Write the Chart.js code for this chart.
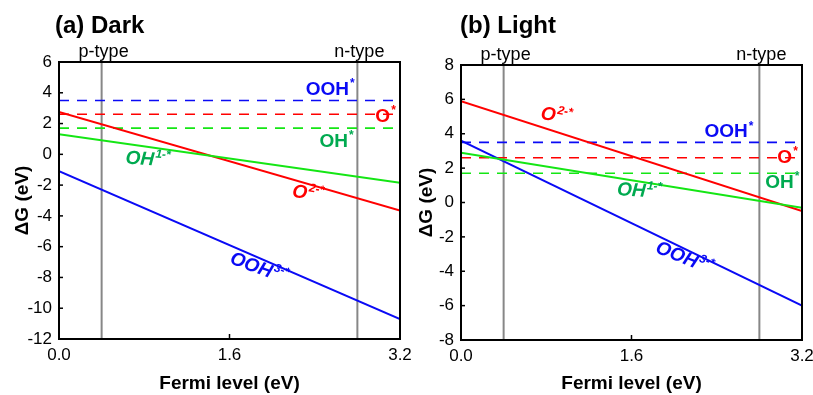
<!DOCTYPE html>
<html lang="en">
<head>
    <meta charset="UTF-8">
    <script src="https://cdn.jsdelivr.net/npm/chart.js"></script>
    <title>Dark / Light</title>
    <style>
      body { margin: 0; background: #fff; }
      .panel { position: absolute; top: 0; height: 395px; }
    </style>
</head>
<body>
  <div style="position: relative; width: 813px; height: 395px;">
    <div class="panel" style="left: 0; width: 420px;"><canvas id="dark"></canvas></div>
    <div class="panel" style="left: 405px; width: 408px;"><canvas id="light"></canvas></div>
  </div>

  <script>
    // values
    const fermiRange = [0, 3.2]           // x axis, eV
    const bandEdges = [0.4, 2.8]          // grey vertical lines
    const edgeLabels = ['p-type', 'n-type']
    const neutralLevels = [3.5, 2.6, 1.7] // OOH*, O*, OH* (flat, dashed)

    const darkYRange = [-12, 6]
    const darkO2 = [2.75, -3.65]          // value at 0 eV and 3.2 eV
    const darkOH1 = [1.3, -1.85]
    const darkOOH3 = [-1.1, -10.7]

    const lightYRange = [-8, 8]
    const lightO2 = [5.9, -0.5]
    const lightOH1 = [2.9, -0.3]
    const lightOOH3 = [3.6, -6.0]

    const RED = 'rgb(255,0,0)'
    const BLUE = 'rgb(10,10,245)'
    const GREEN = 'rgb(20,230,20)'
    const GREEN_TXT = 'rgb(0,170,80)'
    const GREY = 'rgb(135,135,135)'
    const FONT = '"Liberation Sans", Arial, sans-serif'

    // text labels in data coordinates
    const darkLabels = [
      {main: 'OOH', sup: '*', x: 2.54, y: 4.2, color: BLUE},
      {main: 'O', sup: '*', x: 3.06, y: 2.45, color: RED},
      {main: 'OH', sup: '*', x: 2.6, y: 0.83, color: GREEN_TXT},
      {main: 'OH', sup: '1-*', x: 0.83, y: -0.35, color: GREEN_TXT, italic: true, rot: 4},
      {main: 'O', sup: '2-*', x: 2.33, y: -2.57, color: RED, italic: true, rot: 10},
      {main: 'OOH', sup: '3-*', x: 1.87, y: -7.4, color: BLUE, italic: true, rot: 20}
    ]
    const lightLabels = [
      {main: 'O', sup: '2-*', x: 0.89, y: 5.02, color: RED, italic: true, rot: 10},
      {main: 'OOH', sup: '*', x: 2.51, y: 4.09, color: BLUE},
      {main: 'O', sup: '*', x: 3.06, y: 2.6, color: RED},
      {main: 'OH', sup: '*', x: 3.01, y: 1.14, color: GREEN_TXT},
      {main: 'OH', sup: '1-*', x: 1.67, y: 0.65, color: GREEN_TXT, italic: true, rot: 4},
      {main: 'OOH', sup: '3-*', x: 2.09, y: -3.24, color: BLUE, italic: true, rot: 22}
    ]

    const line = (ends, color, dash) => ({
      data: [{x: fermiRange[0], y: ends[0]}, {x: fermiRange[1], y: ends[1]}],
      borderColor: color, borderWidth: dash ? 1.6 : 2, borderDash: dash || [],
      pointRadius: 0, showLine: true
    })

    const framePlugin = {
      id: 'frame',
      afterDraw(chart, args, opts) {
        const {ctx, chartArea: a, scales: {x, y}} = chart
        ctx.save()
        ctx.strokeStyle = '#000'
        ctx.lineWidth = 2
        ctx.strokeRect(a.left, a.top, a.right - a.left, a.bottom - a.top)
        // inward ticks
        ctx.lineWidth = 1.5
        y.ticks.forEach(t => {
          const py = y.getPixelForValue(t.value)
          ctx.beginPath(); ctx.moveTo(a.left, py); ctx.lineTo(a.left + 4, py); ctx.stroke()
        })
        x.ticks.forEach(t => {
          const px = x.getPixelForValue(t.value)
          ctx.beginPath(); ctx.moveTo(px, a.bottom); ctx.lineTo(px, a.bottom - 5); ctx.stroke()
        })
        // panel title
        ctx.fillStyle = '#000'
        ctx.textBaseline = 'middle'
        ctx.textAlign = 'left'
        ctx.font = 'bold 24px ' + FONT
        ctx.fillText(opts.title, opts.titleX, 26)
        // p-type / n-type
        ctx.font = '18px ' + FONT
        ctx.textAlign = 'center'
        bandEdges.forEach((e, i) => ctx.fillText(edgeLabels[i], x.getPixelForValue(e) + 2, a.top - 10))
        // species labels
        opts.labels.forEach(l => {
          const style = l.italic ? 'italic bold ' : 'bold '
          ctx.font = style + '19px ' + FONT
          const w1 = ctx.measureText(l.main).width
          ctx.font = style + '12px ' + FONT
          const w2 = ctx.measureText(l.sup).width
          ctx.save()
          ctx.translate(x.getPixelForValue(l.x), y.getPixelForValue(l.y))
          ctx.rotate((l.rot || 0) * Math.PI / 180)
          ctx.fillStyle = l.color
          ctx.textAlign = 'left'
          ctx.textBaseline = 'middle'
          ctx.font = style + '19px ' + FONT
          ctx.fillText(l.main, -(w1 + w2) / 2, 0)
          ctx.font = style + '12px ' + FONT
          ctx.fillText(l.sup, -(w1 + w2) / 2 + w1 + 1, -6)
          ctx.restore()
        })
        ctx.restore()
      }
    }

    function makeChart(id, yRange, o2, oh1, ooh3, labels, title, layout) {
      return new Chart(document.getElementById(id), {
        type: 'scatter',
        data: {
          datasets: [
            line(oh1, GREEN),
            line(o2, RED),
            line(ooh3, BLUE),
            line([neutralLevels[0], neutralLevels[0]], BLUE, [10, 8]),
            line([neutralLevels[1], neutralLevels[1]], RED, [10, 8]),
            line([neutralLevels[2], neutralLevels[2]], GREEN, [10, 8]),
            ...bandEdges.map(e => ({
              data: [{x: e, y: yRange[0]}, {x: e, y: yRange[1]}],
              borderColor: GREY, borderWidth: 2, pointRadius: 0, showLine: true
            }))
          ]
        },
        options: {
          responsive: true,
          maintainAspectRatio: false,
          animation: false,
          layout: {padding: {top: layout.top, right: layout.right, left: 0, bottom: 0}},
          plugins: {
            legend: {display: false},
            tooltip: {enabled: false},
            frame: {title: title, titleX: layout.titleX, labels: labels}
          },
          scales: {
            x: {
              type: 'linear', min: fermiRange[0], max: fermiRange[1],
              grid: {display: false, drawTicks: false}, border: {display: false},
              ticks: {stepSize: 1.6, padding: 6, color: '#000', font: {family: FONT, size: 17},
                callback: v => v.toFixed(1)},
              title: {display: true, text: 'Fermi level (eV)', color: '#000',
                font: {family: FONT, size: 19, weight: 'bold'}, padding: {top: 0, bottom: 0}},
              afterFit: s => { s.height = layout.xh; s.paddingLeft = 0; s.paddingRight = 0 }
            },
            y: {
              min: yRange[0], max: yRange[1],
              grid: {display: false, drawTicks: false}, border: {display: false},
              ticks: {stepSize: 2, padding: 7, color: '#000', font: {family: FONT, size: 17}},
              title: {display: true, text: '\u0394G (eV)', color: '#000',
                font: {family: FONT, size: 19, weight: 'bold'}, padding: {top: layout.ytp, bottom: 0}},
              afterFit: s => { s.width = layout.yw; s.paddingTop = 0; s.paddingBottom = 0 }
            }
          }
        },
        plugins: [framePlugin]
      })
    }

    makeChart('dark', darkYRange, darkO2, darkOH1, darkOOH3, darkLabels, '(a) Dark',
      {top: 62, right: 20, xh: 56, yw: 59, ytp: 11, titleX: 55})
    makeChart('light', lightYRange, lightO2, lightOH1, lightOOH3, lightLabels, '(b) Light',
      {top: 65, right: 11, xh: 55, yw: 56, ytp: 10, titleX: 55})
  </script>
</body>
</html>
